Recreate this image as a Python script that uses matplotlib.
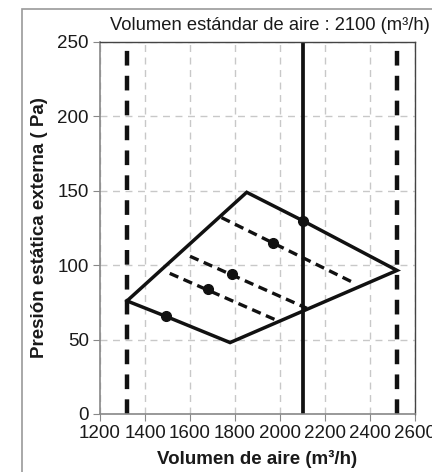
import matplotlib.pyplot as plt
from matplotlib.patches import Rectangle

plt.rcParams['font.family'] = ['Liberation Sans', 'DejaVu Sans']

# operating range outline (m3/h, Pa)
outline_x = [1320, 1852, 2100, 2520, 1778, 1495, 1320]
outline_p = [76, 149, 130, 96.5, 48, 65.5, 76]

# fan curves (dashed)
curve_a_x = [1740, 2330]
curve_a_p = [132, 88]
curve_b_x = [1600, 2120]
curve_b_p = [106, 71]
curve_c_x = [1510, 1992]
curve_c_p = [94.5, 62.5]

# marked points
dots_x = [1495, 1681, 1788, 1970, 2100]
dots_p = [66, 84, 94, 115, 130]

limit_low = 1320
limit_high = 2520
standard = 2100

fig = plt.figure(figsize=(4.32, 4.72), dpi=100)
ax = fig.add_axes([100/432, 58/472, 315/432, 372/472])

# outer frame
fig.patches.append(Rectangle((22/432, -0.1), 1.0, (472-9)/472 + 0.1,
                             transform=fig.transFigure, fill=False,
                             edgecolor='#999999', lw=1.2))

ax.set_xlim(1200, 2600)
ax.set_ylim(0, 250)
ax.set_xticks(range(1200, 2601, 200))
ax.set_yticks(range(0, 251, 50))
ax.grid(True, color='#c8c8c8', linestyle=(0, (5, 4)), lw=1)
ax.set_axisbelow(True)

ax.axvline(limit_low, color='#111111', lw=3.2, linestyle=(0, (3.3, 2.3)))
ax.axvline(limit_high, color='#111111', lw=3.2, linestyle=(0, (3.3, 2.3)))
ax.axvline(standard, color='#111111', lw=2.7)

ax.plot(outline_x, outline_p, color='#111111', lw=2.5, solid_joinstyle='miter')
for cx, cp in [(curve_a_x, curve_a_p), (curve_b_x, curve_b_p), (curve_c_x, curve_c_p)]:
    ax.plot(cx, cp, color='#111111', lw=2.4, linestyle=(0, (2.8, 1.7)))
ax.plot(dots_x, dots_p, 'o', color='#111111', ms=7)

for s in ['left', 'bottom']:
    ax.spines[s].set_color('#888888')
    ax.spines[s].set_linewidth(1.2)
for s in ['top', 'right']:
    ax.spines[s].set_color('#444444')
    ax.spines[s].set_linewidth(1.0)
ax.tick_params(direction='out', length=5, color='#888888', labelsize=13.5,
               labelcolor='#1a1a1a', pad=3)

ax.set_xlabel('Volumen de aire (m³/h)', fontsize=13.5, fontweight='bold',
              color='#1a1a1a', labelpad=6)
ax.set_ylabel('Presión estática externa ( Pa)', fontsize=13.5, fontweight='bold',
              color='#1a1a1a', labelpad=7)
fig.text(110/432, 1 - 25/472, 'Volumen estándar de aire : 2100 (m³/h)',
         fontsize=13.2, color='#1a1a1a', ha='left', va='center')

fig.savefig('out.png', dpi=100)
